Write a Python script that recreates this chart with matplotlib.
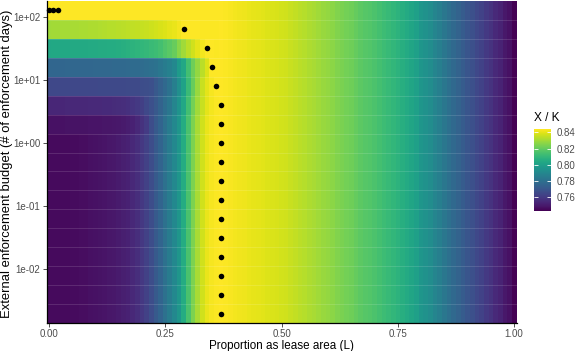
import numpy as np
import matplotlib
matplotlib.use("Agg")
import matplotlib.pyplot as plt
from matplotlib.colors import Normalize

plt.rcParams['font.family'] = ['Liberation Sans', 'DejaVu Sans']

# proportion as lease area, 0..1 in steps of 0.01
lease_L = np.round(np.linspace(0, 1, 101), 2)

# external enforcement budgets (one tile row each), 2^-9 .. 2^7
budget_exp = [-9, -8, -7, -6, -5, -4, -3, -2, -1, 0, 1, 2, 3, 4, 5, 6, 7]

# X/K for the low-budget rows (budget <= 1)
xk_base = [
    0.7450, 0.7450, 0.7450, 0.7450, 0.7450, 0.7455, 0.7456, 0.7458, 0.7460, 0.7465,
    0.7470, 0.7475, 0.7480, 0.7485, 0.7490, 0.7500, 0.7510, 0.7520, 0.7540, 0.7560,
    0.7590, 0.7620, 0.7660, 0.7710, 0.7750, 0.7800, 0.7850, 0.7900, 0.7960, 0.8050,
    0.8150, 0.8240, 0.8310, 0.8370, 0.8410, 0.8430, 0.8437, 0.8440, 0.8437, 0.8433,
    0.8425, 0.8420, 0.8415, 0.8410, 0.8405, 0.8400, 0.8395, 0.8390, 0.8384, 0.8379,
    0.8374, 0.8369, 0.8358, 0.8348, 0.8338, 0.8328, 0.8318, 0.8307, 0.8297, 0.8287,
    0.8277, 0.8267, 0.8251, 0.8236, 0.8226, 0.8216, 0.8200, 0.8185, 0.8175, 0.8165,
    0.8154, 0.8139, 0.8124, 0.8109, 0.8093, 0.8078, 0.8063, 0.8042, 0.8022, 0.8001,
    0.7961, 0.7940, 0.7920, 0.7889, 0.7859, 0.7828, 0.7797, 0.7767, 0.7746, 0.7716,
    0.7695, 0.7675, 0.7644, 0.7624, 0.7593, 0.7573, 0.7542, 0.7522, 0.7491, 0.7471,
    0.7425,
]

# left part (from L = 0) of the rows where a larger budget lifts X/K
xk_left_b2 = [
    0.7471, 0.7471, 0.7472, 0.7472, 0.7473, 0.7473, 0.7474, 0.7475, 0.7476, 0.7477,
    0.7478, 0.7480, 0.7482, 0.7484, 0.7487, 0.7490, 0.7495, 0.7505, 0.7520, 0.7540,
    0.7570, 0.7600,
]
xk_left_b4 = [
    0.7535, 0.7535, 0.7536, 0.7536, 0.7537, 0.7537, 0.7538, 0.7539, 0.7540, 0.7541,
    0.7542, 0.7543, 0.7545, 0.7547, 0.7550, 0.7555, 0.7560, 0.7568, 0.7580, 0.7595,
    0.7614, 0.7644, 0.7675, 0.7706, 0.7746, 0.7787, 0.7828, 0.7889, 0.7950, 0.8032,
    0.8134, 0.8226, 0.8297, 0.8358, 0.8399, 0.8425, 0.8437,
]
xk_left_b8 = [
    0.7644, 0.7644, 0.7644, 0.7645, 0.7645, 0.7645, 0.7646, 0.7646, 0.7646, 0.7647,
    0.7647, 0.7648, 0.7648, 0.7649, 0.7649, 0.7650, 0.7651, 0.7652, 0.7654, 0.7655,
    0.7660, 0.7665, 0.7675, 0.7706, 0.7736, 0.7767, 0.7808, 0.7859, 0.7930, 0.8012,
    0.8114, 0.8205, 0.8287, 0.8358, 0.8399, 0.8430, 0.8442,
]
xk_left_b16 = [
    0.7757, 0.7757, 0.7758, 0.7758, 0.7759, 0.7759, 0.7760, 0.7760, 0.7761, 0.7762,
    0.7763, 0.7764, 0.7765, 0.7766, 0.7767, 0.7768, 0.7770, 0.7772, 0.7775, 0.7778,
    0.7782, 0.7787, 0.7797, 0.7808, 0.7828, 0.7848, 0.7869, 0.7899, 0.7981, 0.8032,
    0.8134, 0.8216, 0.8277, 0.8338, 0.8389, 0.8442, 0.8439,
]
xk_left_b32 = [
    0.8032, 0.8033, 0.8034, 0.8035, 0.8036, 0.8037, 0.8038, 0.8039, 0.8040, 0.8042,
    0.8043, 0.8045, 0.8047, 0.8049, 0.8051, 0.8053, 0.8063, 0.8070, 0.8078, 0.8085,
    0.8093, 0.8103, 0.8114, 0.8124, 0.8140, 0.8160, 0.8180, 0.8205, 0.8256, 0.8297,
    0.8338, 0.8369, 0.8399, 0.8425, 0.8442, 0.8439, 0.8438,
]
xk_left_b64 = [
    0.8297, 0.8299, 0.8301, 0.8303, 0.8305, 0.8307, 0.8309, 0.8311, 0.8313, 0.8316,
    0.8318, 0.8321, 0.8324, 0.8327, 0.8330, 0.8333, 0.8336, 0.8340, 0.8344, 0.8348,
    0.8353, 0.8358, 0.8364, 0.8371, 0.8380, 0.8389, 0.8399, 0.8410, 0.8425, 0.8442,
    0.8440, 0.8439, 0.8439, 0.8438, 0.8438, 0.8438, 0.8438,
]
xk_left_b128 = [
    0.8442, 0.8442, 0.8442, 0.8440, 0.8440, 0.8440, 0.8440, 0.8440, 0.8440, 0.8440,
    0.8440, 0.8440, 0.8440, 0.8440, 0.8440, 0.8440, 0.8440, 0.8440, 0.8440, 0.8440,
    0.8440, 0.8440, 0.8440, 0.8440, 0.8440, 0.8440, 0.8440, 0.8440, 0.8440, 0.8440,
    0.8440, 0.8440, 0.8440, 0.8440, 0.8440, 0.8440, 0.8440,
]

# optimal lease proportion for each budget (black dots)
dot_budget_exp = [-9, -8, -7, -6, -5, -4, -3, -2, -1, 0, 1, 2, 3, 4, 5, 6, 7, 7, 7]
dot_L = [0.37, 0.37, 0.37, 0.37, 0.37, 0.37, 0.37, 0.37, 0.37, 0.37,
         0.37, 0.37, 0.36, 0.35, 0.34, 0.29, 0.00, 0.01, 0.02]

ytick_vals = [1e-2, 1e-1, 1e0, 1e1, 1e2]
ytick_labels = ['1e-02', '1e-01', '1e+00', '1e+01', '1e+02']
xtick_vals = [0.0, 0.25, 0.5, 0.75, 1.0]
xtick_labels = ['0.00', '0.25', '0.50', '0.75', '1.00']
cbar_ticks = [0.76, 0.78, 0.80, 0.82, 0.84]


def full_row(left):
    return list(left) + xk_base[len(left):]


lefts = {1: xk_left_b2, 2: xk_left_b4, 3: xk_left_b8, 4: xk_left_b16,
         5: xk_left_b32, 6: xk_left_b64, 7: xk_left_b128}
Z = np.array([full_row(lefts.get(e, [])) for e in budget_exp])

y_edges = 2.0 ** (np.append(np.array(budget_exp) - 0.5, budget_exp[-1] + 0.5))
x_edges = np.append(lease_L - 0.005, lease_L[-1] + 0.005)

W, H = 575, 351
fig = plt.figure(figsize=(W / 100, H / 100), dpi=100)
ax = fig.add_axes([46.5 / W, 28 / H, 470 / W, 322 / H])

norm = Normalize(vmin=Z.min(), vmax=Z.max())
mesh = ax.pcolormesh(x_edges, y_edges, Z, cmap='viridis', norm=norm,
                     shading='flat', rasterized=True)
ax.set_yscale('log')
ax.set_xlim(x_edges[0], x_edges[-1])
ax.set_ylim(y_edges[0], y_edges[-1])

# faint seams between tile rows
for yb in y_edges[1:-1]:
    ax.axhline(yb, color='white', lw=0.6, alpha=0.15)

ax.scatter(dot_L, 2.0 ** np.array(dot_budget_exp), s=16, color='black',
           zorder=5, clip_on=False, linewidths=0)

ax.set_yticks(ytick_vals)
ax.set_yticklabels(ytick_labels)
ax.yaxis.set_minor_locator(matplotlib.ticker.NullLocator())
ax.set_xticks(xtick_vals)
ax.set_xticklabels(xtick_labels)
ax.tick_params(axis='both', labelsize=7.0, colors='#333333', length=2.8,
               width=0.6, pad=1.5, labelcolor='#4d4d4d')
for side in ['top', 'right']:
    ax.spines[side].set_visible(False)
for side in ['left', 'bottom']:
    ax.spines[side].set_linewidth(0.9)
    ax.spines[side].set_color('black')

fig.text(281.5 / W, 1 - 345.5 / H, 'Proportion as lease area (L)', fontsize=8.4,
         ha='center', va='center')
fig.text(7.5 / W, 1 - 164 / H, 'External enforcement budget (# of enforcement days)',
         fontsize=9.4, ha='center', va='center', rotation=90)

cax = fig.add_axes([534 / W, (H - 211) / H, 17 / W, 82 / H])
cb = fig.colorbar(mesh, cax=cax, ticks=cbar_ticks)
cb.outline.set_visible(False)
cax.tick_params(direction='in', color='white', length=3, width=0.6,
                left=True, right=True, labelsize=7.0, labelcolor='#4d4d4d', pad=4)
cax.set_yticklabels(['0.76', '0.78', '0.80', '0.82', '0.84'])
fig.text(534 / W, 1 - 118 / H, 'X / K', fontsize=8.6, ha='left', va='center')

fig.savefig('out.png', dpi=100)
